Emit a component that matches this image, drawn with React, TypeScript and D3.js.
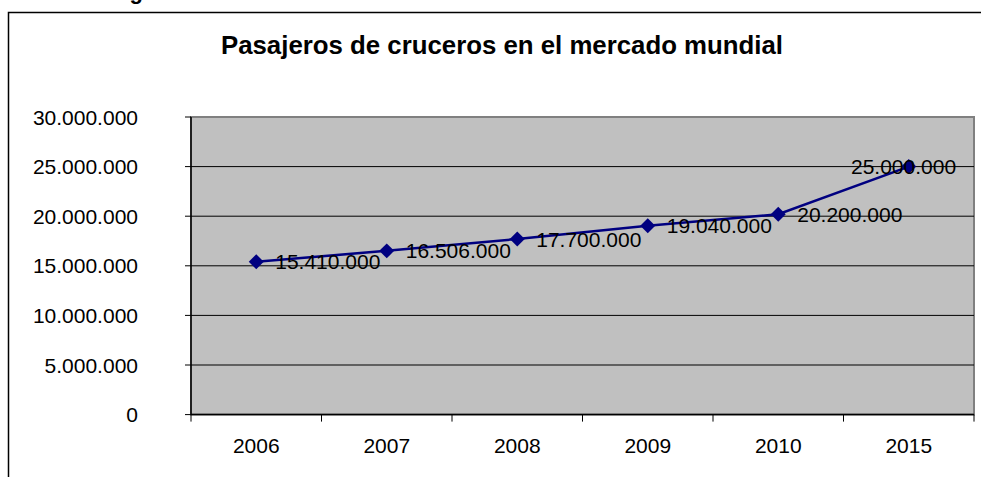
import * as d3 from "d3";

const years = ["2006", "2007", "2008", "2009", "2010", "2015"];
const passengers = [15410000, 16506000, 17700000, 19040000, 20200000, 25000000];
const yTicks = [0, 5000000, 10000000, 15000000, 20000000, 25000000, 30000000];
const title = "Pasajeros de cruceros en el mercado mundial";

const width = 981;
const height = 477;
const plot = { left: 191, right: 974, top: 117, bottom: 414.6 };
const font = "'Liberation Sans', Arial, sans-serif";

const esLocale = d3.formatLocale({
  decimal: ",",
  thousands: ".",
  grouping: [3],
  currency: ["", " €"],
});
const fmt = esLocale.format(",d");

export default function App() {
  const x = d3
    .scaleBand<string>()
    .domain(years)
    .range([plot.left, plot.right])
    .padding(0);
  const y = d3
    .scaleLinear()
    .domain([0, 30000000])
    .range([plot.bottom, plot.top]);

  const pts = years.map((yr, i) => ({
    yr,
    v: passengers[i],
    cx: (x(yr) ?? 0) + x.bandwidth() / 2,
    cy: y(passengers[i]),
  }));

  const line = d3
    .line<(typeof pts)[number]>()
    .x((d) => d.cx)
    .y((d) => d.cy);

  const diamond = d3.symbol(d3.symbolSquare, 112)();
  const labelW = 105;

  return (
    <svg
      width={width}
      height={height}
      style={{ position: "absolute", left: 0, top: 0, background: "#fff" }}
      fontFamily={font}
    >
      {/* caption above the frame, cut off by the crop */}
      <text x={110} y={-1.5} fontSize={22} fontWeight="bold">
        Figura
      </text>
      <rect
        x={8.5}
        y={12.5}
        width={1100}
        height={600}
        fill="#fff"
        stroke="#000"
        strokeWidth={1.5}
      />
      <text
        x={502}
        y={54}
        textAnchor="middle"
        fontSize={25.8}
        fontWeight="bold"
      >
        {title}
      </text>

      <rect
        x={plot.left}
        y={plot.top}
        width={plot.right - plot.left}
        height={plot.bottom - plot.top}
        fill="#c0c0c0"
        stroke="#808080"
        strokeWidth={2}
      />
      {yTicks.slice(1, -1).map((t) => (
        <line
          key={t}
          x1={plot.left}
          x2={plot.right}
          y1={y(t)}
          y2={y(t)}
          stroke="#000"
          strokeWidth={1}
        />
      ))}

      {/* axes */}
      <line x1={plot.left} x2={plot.left} y1={plot.top} y2={plot.bottom} stroke="#000" strokeWidth={1.5} />
      <line x1={plot.left} x2={plot.right} y1={plot.bottom} y2={plot.bottom} stroke="#000" strokeWidth={1.5} />
      {yTicks.map((t) => (
        <g key={t}>
          <line x1={plot.left - 6} x2={plot.left} y1={y(t)} y2={y(t)} stroke="#000" />
          <text
            x={138}
            y={y(t)}
            dy="0.36em"
            textAnchor="end"
            fontSize={21}
          >
            {fmt(t)}
          </text>
        </g>
      ))}
      {[...years.map((yr) => x(yr) ?? 0), plot.right].map((tx, i) => (
        <line key={i} x1={tx} x2={tx} y1={plot.bottom} y2={plot.bottom + 7} stroke="#000" />
      ))}
      {pts.map((d) => (
        <text key={d.yr} x={d.cx} y={453} textAnchor="middle" fontSize={21}>
          {d.yr}
        </text>
      ))}

      <path d={line(pts) ?? undefined} fill="none" stroke="#000080" strokeWidth={2.5} />
      {pts.map((d) => (
        <path
          key={d.yr}
          d={diamond ?? undefined}
          transform={`translate(${d.cx},${d.cy}) rotate(45)`}
          fill="#000080"
        />
      ))}
      {pts.map((d) => {
        // Excel pulls the last label back inside the plot
        const lx = Math.min(d.cx + 19, plot.right - 18 - labelW);
        return (
          <text key={d.yr} x={lx} y={d.cy} dy="0.36em" fontSize={21}>
            {fmt(d.v)}
          </text>
        );
      })}
    </svg>
  );
}
